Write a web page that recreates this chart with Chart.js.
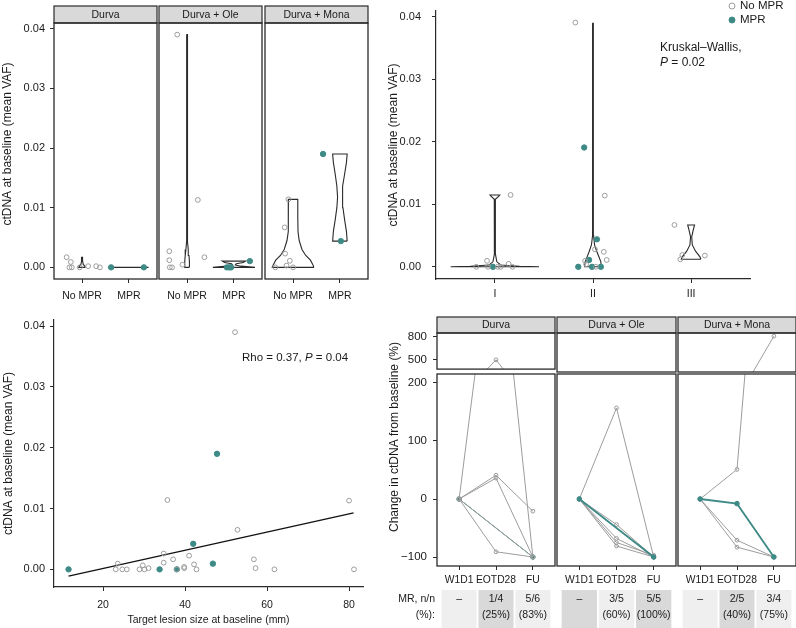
<!DOCTYPE html>
<html>
<head>
<meta charset="utf-8">
<script src="https://cdn.jsdelivr.net/npm/chart.js@4.4.0/dist/chart.umd.min.js"></script>
<style>
body { margin: 0; background: #fff; width: 796px; height: 628px; overflow: hidden; position: relative; }
canvas { position: absolute; }
</style>
</head>
<body>
<script>
// ---------- data ----------
var facetNames = ['Durva', 'Durva + Ole', 'Durva + Mona'];
var groups = ['No MPR', 'MPR'];
var vafTicks = [0, 0.01, 0.02, 0.03, 0.04];

// baseline VAF by arm / response (x = jittered group position, 1 = No MPR, 2 = MPR)
var durvaNoX = [0.67, 0.76, 0.73, 0.78, 0.95, 1.13, 1.30, 1.38];
var durvaNoY = [0.0017, 0.0009, 0, 0, 0, 0.0002, 0.0002, 0];
var durvaMprX = [1.62, 2.32];
var durvaMprY = [0, 0];
var oleNoX = [0.79, 1.23, 0.62, 0.62, 0.63, 0.68, 0.90, 1.37];
var oleNoY = [0.039, 0.0113, 0.0027, 0.0012, 0, 0, 0.00045, 0.0017];
var oleMprX = [1.85, 1.90, 1.94, 2.34];
var oleMprY = [0, 0, 0, 0.00105];
var monaNoX = [0.90, 0.82, 0.83, 0.93, 0.86, 0.62, 1.00];
var monaNoY = [0.0114, 0.0067, 0.0023, 0.0011, 0.0003, 0, 0];
var monaMprX = [1.64, 2.02];
var monaMprY = [0.019, 0.0044];

// violin outlines: [VAF, half width in group units]
var durvaNoViolin = [[0, 0.07], [0.0002, 0.06], [0.0005, 0.025], [0.001, 0.012], [0.0017, 0.01]];
var durvaMprViolin = [[0, 0.42]];
var oleNoViolin = [[0, 0.05], [0.001, 0.05], [0.002, 0.04], [0.003, 0.025], [0.0045, 0.006], [0.008, 0.008],
  [0.015, 0.012], [0.022, 0.012], [0.03, 0.008], [0.039, 0.004]];
var oleMprViolin = [[0, 0.45], [0.0002, 0.15], [0.0004, 0.03], [0.0006, 0.05], [0.0008, 0.2], [0.00105, 0.25]];
var monaNoViolin = [[0, 0.445], [0.0005, 0.42], [0.0012, 0.37], [0.002, 0.27], [0.003, 0.19], [0.0045, 0.13],
  [0.006, 0.105], [0.0085, 0.1], [0.0114, 0.1]];
var monaMprViolin = [[0.0044, 0.155], [0.006, 0.14], [0.008, 0.1], [0.01, 0.065], [0.0118, 0.05], [0.0136, 0.065],
  [0.0156, 0.1], [0.0176, 0.14], [0.019, 0.155]];

// baseline VAF by stage
var stages = ['I', 'II', 'III'];
var stageNoX = [0.81, 0.92, 0.93, 1.03, 1.06, 1.14, 1.18, 1.16, 1.82, 2.12, 2.02, 2.11, 2.14, 1.92, 1.93, 2.03, 2.83, 2.89, 2.91, 3.14];
var stageNoY = [0, 0.00096, 0, 0, 0, 0.00048, 0, 0.0115, 0.0391, 0.0114, 0.0028, 0.0024, 0.0011, 0.00096, 0.0004, 0,
  0.0067, 0.0012, 0.0019, 0.0018];
var stageMprX = [0.98, 1.91, 2.04, 1.96, 1.85, 1.99, 2.08];
var stageMprY = [0, 0.0191, 0.0044, 0.0011, 0, 0, 0];
var stageIViolin = [[0, 0.45], [0.0001, 0.25], [0.0003, 0.06], [0.0008, 0.02], [0.002, 0.006], [0.006, 0.004],
  [0.0108, 0.006], [0.0113, 0.04], [0.0115, 0.05]];
var stageIIViolin = [[0, 0.085], [0.0008, 0.08], [0.0016, 0.06], [0.0025, 0.038], [0.0035, 0.016], [0.005, 0.006],
  [0.01, 0.004], [0.02, 0.004], [0.03, 0.003], [0.039, 0.003]];
var stageIIIViolin = [[0.0012, 0.1], [0.0016, 0.09], [0.0025, 0.045], [0.0035, 0.012], [0.0048, 0.006], [0.0058, 0.02], [0.0067, 0.035]];

// baseline VAF vs target lesion size
var sizeTicks = [20, 40, 60, 80];
var lesionNoX = [23.6, 23.1, 24.7, 25.8, 28.9, 29.7, 30.1, 31.1, 34.8, 34.8, 35.7, 37.1, 38.0, 39.8, 39.8, 41.0, 42.2, 42.8,
  52.2, 52.8, 56.8, 57.2, 61.8, 80.0, 81.2];
var lesionNoY = [0.00094, 0, 0, 0, 0, 0.00066, 0, 0.0002, 0.0011, 0.0026, 0.0114, 0.00165, 0, 0.0004, 0.0002, 0.00225, 0.00082, 0,
  0.039, 0.0065, 0.00165, 0.0002, 0, 0.0113, 0];
var lesionMprX = [11.6, 33.8, 38.0, 42.0, 46.8, 47.8];
var lesionMprY = [0, 0, 0, 0.0042, 0.00094, 0.019];
var fitX = [11.6, 81.1];
var fitY = [-0.0011, 0.0093];

// change in ctDNA from baseline (%), one row per patient: W1D1, EOTD28, FU
var timepoints = ['W1D1', 'EOTD28', 'FU'];
var lowTicks = [-100, 0, 100, 200];
var highTicks = [500, 800];
var durvaChange = [[0, 500, -100], [0, 41, -21], [0, 36, -100], [0, -91, -100], [0, null, -100]];
var durvaChangeMpr = [[0, null, -100]];
var oleChange = [[0, 157, -100], [0, -44, -100], [0, -68, -100], [0, -75, -97], [0, -81, -100]];
var oleChangeMpr = [[0, null, -100]];
var monaChange = [[0, 51, 810], [0, -71, -100], [0, -83, -100]];
var monaChangeMpr = [[0, -8, -100]];

// molecular response table
var durvaMR = ['\u2013', '1/4', '5/6'];
var durvaPct = ['', '(25%)', '(83%)'];
var durvaShade = [0, 1, 0];
var oleMR = ['\u2013', '3/5', '5/5'];
var olePct = ['', '(60%)', '(100%)'];
var oleShade = [1, 0, 1];
var monaMR = ['\u2013', '2/5', '3/4'];
var monaPct = ['', '(40%)', '(75%)'];
var monaShade = [0, 1, 0];

// ---------- styling ----------
var TEAL = '#3e8a86', GREY = '#9c9c9c', INK = '#2a2a2a', TXT = '#1a1a1a';
var FONT = '"Liberation Sans", Arial, Helvetica, sans-serif';
Chart.defaults.font.family = FONT;
Chart.defaults.color = TXT;
Chart.defaults.plugins.legend.display = false;
Chart.defaults.plugins.tooltip.enabled = false;

function drawText(ctx, t, a) {
  var size = t.size || 11.5;
  var parts = t.parts || [[t.text, false]];
  ctx.save();
  ctx.translate(a.left + t.x, a.top + t.y);
  if (t.rotate) ctx.rotate(-Math.PI / 2);
  ctx.textBaseline = 'middle';
  ctx.textAlign = 'left';
  ctx.fillStyle = TXT;
  var fonts = parts.map(function (p) { return (p[1] ? 'italic ' : '') + size + 'px ' + FONT; });
  var total = 0;
  var widths = parts.map(function (p, i) { ctx.font = fonts[i]; var w = ctx.measureText(p[0]).width; total += w; return w; });
  var cx = t.align === 'right' ? -total : (t.align === 'center' ? -total / 2 : 0);
  parts.forEach(function (p, i) { ctx.font = fonts[i]; ctx.fillText(p[0], cx, 0); cx += widths[i]; });
  ctx.restore();
}

var panelPlugin = {
  id: 'panel',
  afterDraw: function (chart, args, o) {
    var ctx = chart.ctx, a = chart.chartArea;
    ctx.save();
    if (o.strip) {
      ctx.fillStyle = '#d9d9d9';
      ctx.fillRect(a.left, a.top - o.stripH, a.right - a.left, o.stripH);
      ctx.strokeStyle = INK; ctx.lineWidth = 1.2;
      ctx.strokeRect(a.left, a.top - o.stripH, a.right - a.left, o.stripH);
      ctx.fillStyle = TXT; ctx.font = '10.5px ' + FONT;
      ctx.textAlign = 'center'; ctx.textBaseline = 'middle';
      ctx.fillText(o.strip, (a.left + a.right) / 2, a.top - o.stripH / 2 + 0.5);
    }
    if (o.box) {
      ctx.strokeStyle = INK; ctx.lineWidth = 1.3;
      ctx.strokeRect(a.left, a.top, a.right - a.left, a.bottom - a.top);
    }
    if (o.legend) {
      o.legend.items.forEach(function (it, i) {
        var y = a.top + o.legend.y + i * o.legend.gap;
        drawText(ctx, {text: it.label, x: o.legend.x + 8, y: o.legend.y + i * o.legend.gap, size: 11.5}, a);
        ctx.beginPath();
        ctx.arc(a.left + o.legend.x, y, 3, 0, Math.PI * 2);
        ctx.fillStyle = it.fill;
        ctx.fill();
        ctx.strokeStyle = it.stroke; ctx.lineWidth = 1;
        ctx.stroke();
      });
    }
    (o.texts || []).forEach(function (t) { drawText(ctx, t, a); });
    ctx.restore();
  }
};

var tablePlugin = {
  id: 'table',
  afterDraw: function (chart, args, o) {
    if (!o.rows) return;
    var ctx = chart.ctx, a = chart.chartArea, x = chart.scales.x;
    ctx.save();
    ctx.fillStyle = TXT; ctx.font = o.size + 'px ' + FONT;
    ctx.textAlign = 'center'; ctx.textBaseline = 'middle';
    o.rows.forEach(function (row, r) {
      row.forEach(function (s, i) { ctx.fillText(s, x.getPixelForValue(i + 1), a.top + o.lineY[r]); });
    });
    ctx.restore();
  }
};
Chart.register(panelPlugin, tablePlugin);

function makeChart(area, yw, xh, pad, config) {
  var p = Object.assign({left: 10, top: 10, right: 10, bottom: 10}, pad);
  var w = area.r - area.l + yw + p.left + p.right;
  var h = area.b - area.t + xh + p.top + p.bottom;
  var c = document.createElement('canvas');
  c.width = w; c.height = h;
  c.style.left = (area.l - yw - p.left) + 'px';
  c.style.top = (area.t - p.top) + 'px';
  document.body.appendChild(c);
  var o = config.options;
  o.responsive = false; o.animation = false; o.layout = {padding: p};
  o.scales.x.afterFit = function (s) { s.height = xh; };
  o.scales.y.afterFit = function (s) { s.width = yw; };
  return new Chart(c, config);
}

function axis(min, max, values, fmt, size, pad, extra) {
  var ax = {
    type: 'linear', min: min, max: max, bounds: 'data', offset: false,
    afterBuildTicks: function (s) { s.ticks = values.map(function (v) { return {value: v}; }); },
    ticks: {callback: fmt, autoSkip: false, maxRotation: 0, minRotation: 0, padding: pad, color: TXT, font: {size: size}},
    grid: {display: true, drawOnChartArea: false, drawTicks: true, tickLength: 4, color: INK, lineWidth: 1},
    border: {display: false}
  };
  return Object.assign(ax, extra || {});
}

function pts(xs, ys, filled, r) {
  return {
    data: xs.map(function (x, i) { return {x: x, y: ys[i]}; }),
    showLine: false, pointRadius: r, pointBorderWidth: 1,
    pointBackgroundColor: filled ? TEAL : 'rgba(0,0,0,0)', pointBorderColor: filled ? TEAL : GREY
  };
}

function violin(center, profile) {
  var right = profile.map(function (p) { return {x: center + p[1], y: p[0]}; });
  var left = profile.slice().reverse().map(function (p) { return {x: center - p[1], y: p[0]}; });
  return {data: right.concat(left, [right[0]]), showLine: true, pointRadius: 0, borderColor: INK, borderWidth: 1.1, fill: false};
}

var vafFmt = function (v) { return v.toFixed(2); };
var pctFmt = function (v) { return v < 0 ? '\u2212' + Math.abs(v) : String(v); };

// ---------- top left: by arm ----------
var tlFacets = [
  {name: facetNames[0], l: 54, r: 157, noX: durvaNoX, noY: durvaNoY, mX: durvaMprX, mY: durvaMprY, noV: durvaNoViolin, mV: durvaMprViolin},
  {name: facetNames[1], l: 159, r: 262, noX: oleNoX, noY: oleNoY, mX: oleMprX, mY: oleMprY, noV: oleNoViolin, mV: oleMprViolin},
  {name: facetNames[2], l: 265, r: 368, noX: monaNoX, noY: monaNoY, mX: monaMprX, mY: monaMprY, noV: monaNoViolin, mV: monaMprViolin}
];
tlFacets.forEach(function (f, i) {
  var first = i === 0;
  makeChart({l: f.l, r: f.r, t: 23, b: 279}, first ? 53 : 0, 30, {top: 20}, {
    type: 'scatter',
    data: {datasets: [pts(f.noX, f.noY, false, 2.4), pts(f.mX, f.mY, true, 2.7), violin(1, f.noV), violin(2, f.mV)]},
    options: {
      scales: {
        x: axis(0.4, 2.6, [1, 2], function (v) { return groups[v - 1]; }, 10.5, 7),
        y: axis(-0.00195, 0.04095, vafTicks, vafFmt, 11, 5, {display: first})
      },
      plugins: {panel: {box: true, strip: f.name, stripH: 17,
        texts: first ? [{text: 'ctDNA at baseline (mean VAF)', x: -46, y: 121, rotate: true, align: 'center', size: 12}] : []}}
    }
  });
});

// ---------- top right: by stage ----------
makeChart({l: 436, r: 750, t: 11, b: 279}, 50, 30, {top: 20, right: 46}, {
  type: 'scatter',
  data: {datasets: [pts(stageNoX, stageNoY, false, 2.4), pts(stageMprX, stageMprY, true, 2.7),
    violin(1, stageIViolin), violin(2, stageIIViolin), violin(3, stageIIIViolin)]},
  options: {
    scales: {
      x: axis(0.4, 3.6, [1, 2, 3], function (v) { return stages[v - 1]; }, 10.5, 5,
        {border: {display: true, color: INK, width: 1.2}}),
      y: axis(-0.00195, 0.04095, vafTicks, vafFmt, 11, 11, {
        border: {display: true, color: INK, width: 1.2},
        title: {display: true, text: 'ctDNA at baseline (mean VAF)', color: TXT, font: {size: 12}, padding: {top: 0, bottom: 0}}
      })
    },
    plugins: {panel: {
      legend: {x: 296, y: -5, gap: 14, items: [{label: groups[0], fill: '#fff', stroke: GREY}, {label: groups[1], fill: TEAL, stroke: TEAL}]},
      texts: [{text: 'Kruskal\u2013Wallis,', x: 224, y: 37, size: 12},
              {parts: [['P', true], [' = 0.02', false]], x: 224, y: 52, size: 12}]
    }}
  }
});

// ---------- bottom left: vs lesion size ----------
makeChart({l: 54, r: 363, t: 320, b: 587}, 53, 40, {top: 16}, {
  type: 'scatter',
  data: {datasets: [pts(lesionNoX, lesionNoY, false, 2.4), pts(lesionMprX, lesionMprY, true, 2.7),
    {data: fitX.map(function (x, i) { return {x: x, y: fitY[i]}; }), showLine: true, pointRadius: 0, borderColor: '#111', borderWidth: 1.3}]},
  options: {
    scales: {
      x: axis(8.05, 83.4, sizeTicks, function (v) { return String(v); }, 10.5, 8, {
        border: {display: true, color: INK, width: 1.2},
        title: {display: true, text: 'Target lesion size at baseline (mm)', color: TXT, font: {size: 10.5}, padding: {top: 0, bottom: 1}}
      }),
      y: axis(-0.0029, 0.041, vafTicks, vafFmt, 11, 5, {
        border: {display: true, color: INK, width: 1.2},
        title: {display: true, text: 'ctDNA at baseline (mean VAF)', color: TXT, font: {size: 12}, padding: {top: 0, bottom: 0}}
      })
    },
    plugins: {panel: {texts: [{parts: [['Rho = 0.37, ', false], ['P', true], [' = 0.04', false]], x: 188, y: 38, size: 11.5}]}}
  }
});

// ---------- bottom right: change from baseline ----------
var brFacets = [
  {name: facetNames[0], l: 437, r: 555, rows: durvaChange, mpr: durvaChangeMpr, tealOnTop: false, mr: durvaMR, pct: durvaPct, shade: durvaShade},
  {name: facetNames[1], l: 557, r: 676, rows: oleChange, mpr: oleChangeMpr, tealOnTop: true, mr: oleMR, pct: olePct, shade: oleShade},
  {name: facetNames[2], l: 678, r: 796, rows: monaChange, mpr: monaChangeMpr, tealOnTop: true, mr: monaMR, pct: monaPct, shade: monaShade}
];

function changeSets(f) {
  function line(row, teal) {
    return {
      data: row.map(function (y, k) { return {x: k + 1, y: y}; }),
      showLine: true, spanGaps: true, clip: 0,
      borderColor: teal ? TEAL : GREY, borderWidth: teal && f.tealOnTop ? 1.8 : 1,
      pointRadius: teal ? 2.3 : 1.9, pointBorderWidth: 1,
      pointBackgroundColor: teal ? TEAL : 'rgba(0,0,0,0)', pointBorderColor: teal ? TEAL : GREY
    };
  }
  var grey = f.rows.map(function (r) { return line(r, false); });
  var teal = f.mpr.map(function (r) { return line(r, true); });
  return f.tealOnTop ? teal.concat(grey) : grey.concat(teal);
}

brFacets.forEach(function (f, i) {
  var first = i === 0;
  var tpFmt = function (v) { return timepoints[v - 1]; };
  makeChart({l: f.l, r: f.r, t: 333, b: 372}, first ? 49 : 0, 0, {top: 20}, {
    type: 'scatter',
    data: {datasets: changeSets(f)},
    options: {
      scales: {
        x: axis(0.4, 3.6, [1, 2, 3], tpFmt, 10.3, 4, {display: false}),
        y: axis(380, 848, highTicks, pctFmt, 11.5, 6, {display: first})
      },
      plugins: {panel: {box: true, strip: f.name, stripH: 16}}
    }
  });
  makeChart({l: f.l, r: f.r, t: 374, b: 566}, first ? 49 : 0, 22, {top: first ? 40 : 20}, {
    type: 'scatter',
    data: {datasets: changeSets(f)},
    options: {
      scales: {
        x: axis(0.4, 3.6, [1, 2, 3], tpFmt, 10.3, 4),
        y: axis(-115.5, 215.5, lowTicks, pctFmt, 11.5, 6, {display: first})
      },
      plugins: {panel: {box: true,
        texts: first ? [{text: 'Change in ctDNA from baseline (%)', x: -42, y: 63, rotate: true, align: 'center', size: 12}] : []}}
    }
  });
  makeChart({l: f.l, r: f.r, t: 590, b: 640}, 0, 0, {left: first ? 80 : 10}, {
    type: 'bar',
    data: {datasets: [{
      data: f.shade.map(function (s, k) { return {x: k + 1, y: 1}; }),
      backgroundColor: f.shade.map(function (s) { return s ? '#d9d9d9' : '#efefef'; }),
      barPercentage: 0.95, categoryPercentage: 1
    }]},
    options: {
      scales: {
        x: {type: 'linear', display: false, offset: false, min: 0.4, max: 3.6,
            afterBuildTicks: function (s) { s.ticks = [1, 2, 3].map(function (v) { return {value: v}; }); }},
        y: {type: 'linear', display: false, offset: false, min: 0, max: 1}
      },
      plugins: {
        table: {rows: [f.mr, f.pct], lineY: [9, 25], size: 10.5},
        panel: {texts: first ? [{text: 'MR, n/n', x: -2, y: 9, align: 'right', size: 10.5},
                                {text: '(%):', x: -2, y: 25, align: 'right', size: 10.5}] : []}
      }
    }
  });
});
</script>
</body>
</html>
